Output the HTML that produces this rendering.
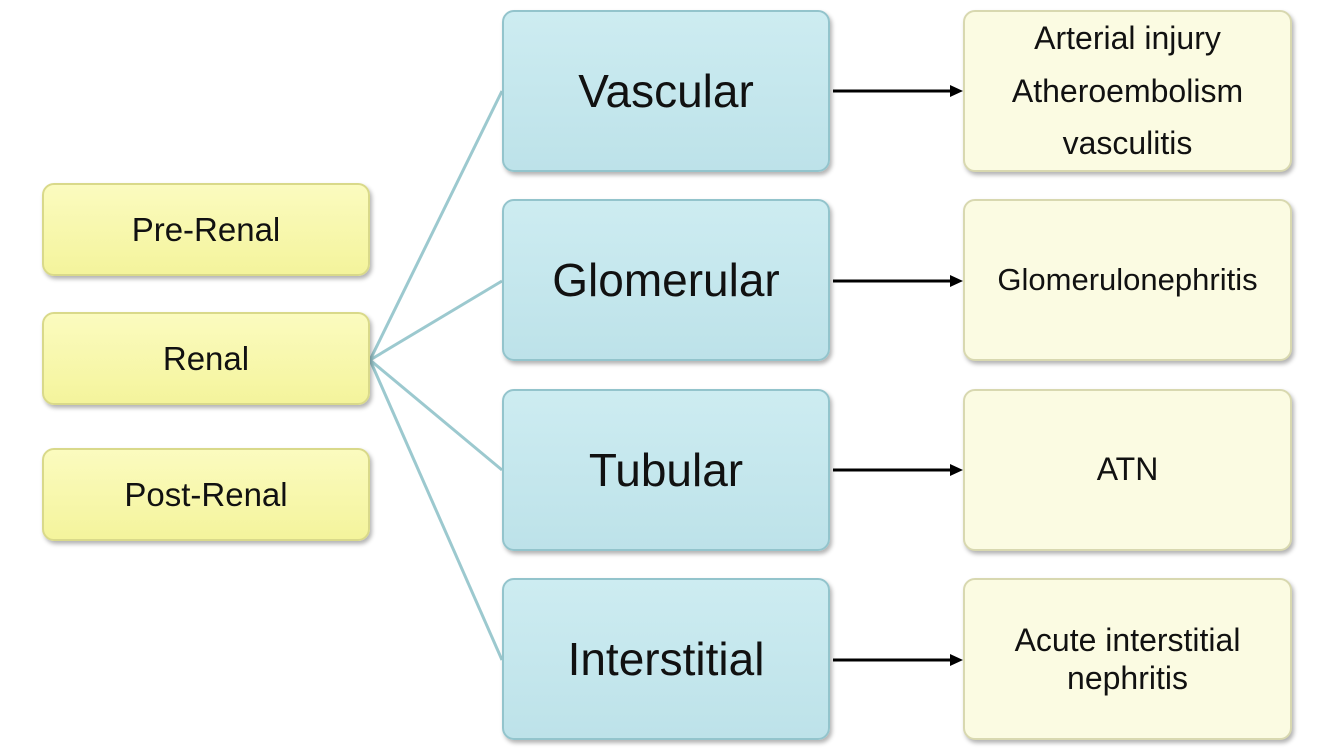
<!DOCTYPE html>
<html><head><style>
body{margin:0;width:1334px;height:754px;background:#fff;position:relative;overflow:hidden;font-family:"Liberation Sans",Arial,sans-serif;}
.b{position:absolute;box-sizing:border-box;display:flex;align-items:center;justify-content:center;text-align:center;border-radius:12px;color:#111;}
.y{background:linear-gradient(#fbfbbf,#f4f49c);border:2px solid #d9d98a;box-shadow:2px 3px 4px rgba(0,0,0,.3);font-size:33px;}
.c{background:linear-gradient(#cdecf1,#bde2e9);border:2px solid #93c4cc;box-shadow:2px 3px 4px rgba(0,0,0,.3);font-size:46px;}
.r{background:#fbfbe2;border:2px solid #d8d8b0;box-shadow:2px 3px 4px rgba(0,0,0,.3);font-size:32px;line-height:1.3;}
svg{position:absolute;left:0;top:0}
</style></head><body>
<svg width="1334" height="754">
<g stroke="#9cc9cf" stroke-width="3" fill="none">
<line x1="370" y1="360" x2="502" y2="91"/><line x1="370" y1="360" x2="502" y2="281"/>
<line x1="370" y1="360" x2="502" y2="470"/><line x1="370" y1="360" x2="502" y2="660"/>
</g>
<g stroke="#000" stroke-width="3"><line x1="833" y1="91" x2="952" y2="91"/><line x1="833" y1="281" x2="952" y2="281"/><line x1="833" y1="470" x2="952" y2="470"/><line x1="833" y1="660" x2="952" y2="660"/></g>
<g fill="#000"><polygon points="963,91 950,85 950,97"/><polygon points="963,281 950,275 950,287"/><polygon points="963,470 950,464 950,476"/><polygon points="963,660 950,654 950,666"/></g>
</svg>
<div class="b y" style="left:42px;top:183px;width:328px;height:93px">Pre-Renal</div>
<div class="b y" style="left:42px;top:312px;width:328px;height:93px">Renal</div>
<div class="b y" style="left:42px;top:448px;width:328px;height:93px">Post-Renal</div>
<div class="b c" style="left:502px;top:10px;width:328px;height:162px">Vascular</div>
<div class="b c" style="left:502px;top:199px;width:328px;height:162px">Glomerular</div>
<div class="b c" style="left:502px;top:389px;width:328px;height:162px">Tubular</div>
<div class="b c" style="left:502px;top:578px;width:328px;height:162px">Interstitial</div>
<div class="b r" style="left:963px;top:10px;width:329px;height:162px;line-height:1.65">Arterial injury<br>Atheroembolism<br>vasculitis</div>
<div class="b r" style="left:963px;top:199px;width:329px;height:162px;font-size:31px">Glomerulonephritis</div>
<div class="b r" style="left:963px;top:389px;width:329px;height:162px">ATN</div>
<div class="b r" style="left:963px;top:578px;width:329px;height:162px;line-height:1.2">Acute interstitial<br>nephritis</div>
</body></html>
